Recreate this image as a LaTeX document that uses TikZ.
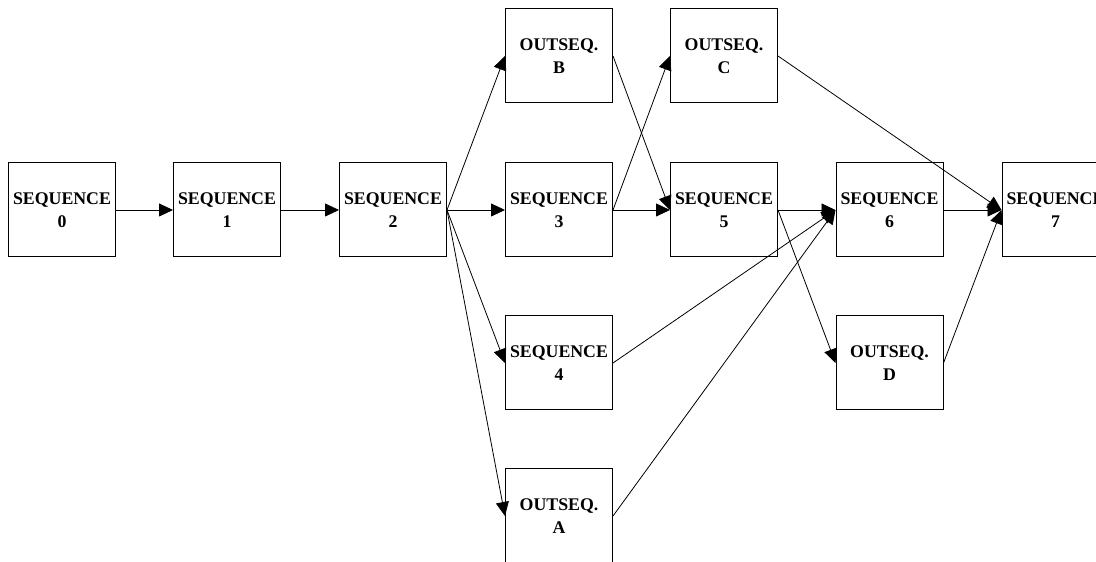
\documentclass[tikz,border=0pt]{standalone}
\usepackage{fontspec}
\setmainfont{Liberation Serif}
\usetikzlibrary{arrows.meta}
\begin{document}
\begin{tikzpicture}[x=1pt,y=1pt,
  box/.style={draw, line width=1pt, fill=white, minimum width=107pt, minimum height=94pt,
    inner sep=0pt, align=center, font=\fontsize{17.8}{23}\selectfont\bfseries},
  conn/.style={line width=0.8pt, -{Triangle[length=14pt,width=13pt]}}]
\useasboundingbox (0,0) rectangle (1096,562);
\clip (0,0) rectangle (1096,562);
\node[box] (s0) at (62,352) {SEQUENCE\\0};
\node[box] (s1) at (227,352) {SEQUENCE\\1};
\node[box] (s2) at (393,352) {SEQUENCE\\2};
\node[box] (b) at (559,506) {OUTSEQ.\\B};
\node[box] (s3) at (559,352) {SEQUENCE\\3};
\node[box] (s4) at (559,199) {SEQUENCE\\4};
\node[box] (a) at (559,46) {OUTSEQ.\\A};
\node[box] (c) at (724,506) {OUTSEQ.\\C};
\node[box] (s5) at (724,352) {SEQUENCE\\5};
\node[box] (s6) at (889.5,352) {SEQUENCE\\6};
\node[box] (d) at (889.5,199) {OUTSEQ.\\D};
\node[box] (s7) at (1055.5,352) {SEQUENCE\\7};
\draw[conn] (s0.east) -- (s1.west);
\draw[conn] (s1.east) -- (s2.west);
\draw[conn] (s2.east) -- (b.west);
\draw[conn] (s2.east) -- (s3.west);
\draw[conn] (s2.east) -- (s4.west);
\draw[conn] (s2.east) -- (a.west);
\draw[conn] (s3.east) -- (c.west);
\draw[conn] (s3.east) -- (s5.west);
\draw[conn] (b.east) -- (s5.west);
\draw[conn] (c.east) -- (s7.west);
\draw[conn] (s5.east) -- (s6.west);
\draw[conn] (s5.east) -- (d.west);
\draw[conn] (s4.east) -- (s6.west);
\draw[conn] (a.east) -- (s6.west);
\draw[conn] (s6.east) -- (s7.west);
\draw[conn] (d.east) -- (s7.west);
\end{tikzpicture}
\end{document}
